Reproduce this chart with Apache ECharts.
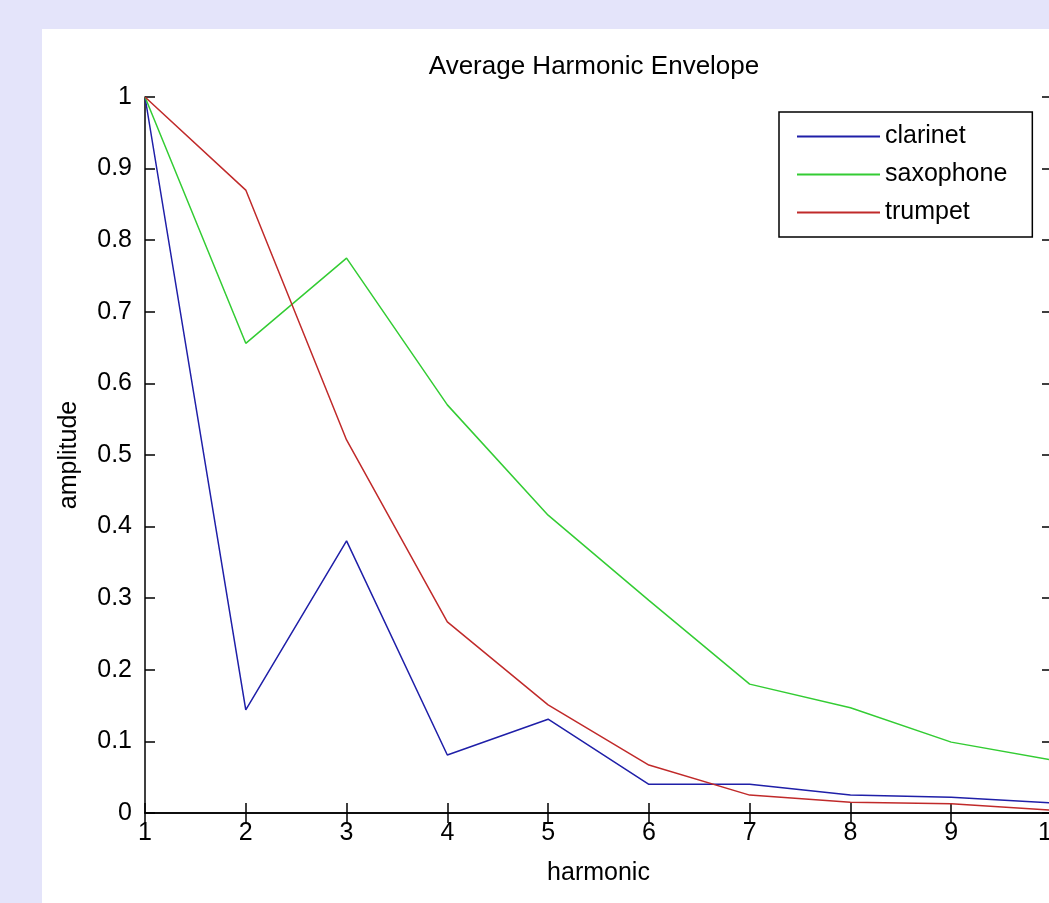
<!DOCTYPE html>
<html lang="en">
<head>
    <meta charset="UTF-8">
    <title>Average Harmonic Envelope</title>
    <style>
        html, body { margin: 0; padding: 0; background: #e4e4fa; }
    </style>
</head>
<body>
<div id="chartBox" style="width: 1049px;height: 903px;"></div>
<script type="text/javascript" src="https://cdn.jsdelivr.net/npm/echarts@6/dist/echarts.min.js"></script>
<script type="text/javascript">
    // harmonic number on x
    var harmonics = [1, 2, 3, 4, 5, 6, 7, 8, 9, 10];
    var seriesNames = ['clarinet', 'saxophone', 'trumpet'];
    var clarinet  = [1.0, 0.144, 0.380, 0.081, 0.131, 0.040, 0.040, 0.025, 0.022, 0.014];
    var saxophone = [1.0, 0.656, 0.775, 0.570, 0.416, 0.297, 0.180, 0.147, 0.099, 0.074];
    var trumpet   = [1.0, 0.870, 0.521, 0.267, 0.151, 0.067, 0.025, 0.015, 0.013, 0.004];
    var yTickLabels = ['0', '0.1', '0.2', '0.3', '0.4', '0.5', '0.6', '0.7', '0.8', '0.9', '1'];

    var font = "'Liberation Sans', Arial, sans-serif";
    var colors = ['#1f1fa8', '#33cc33', '#c02a2a'];

    function pairs(vals) {
        return harmonics.map(function (h, i) { return [h, vals[i]]; });
    }

    var axisLine = { show: true, lineStyle: { color: '#000', width: 1.5 } };
    var tick = { show: true, inside: true, length: 10, lineStyle: { color: '#000', width: 1.5 } };
    var lbl = { color: '#000', fontSize: 25, fontFamily: font };

    var myChart = echarts.init(document.getElementById('chartBox'));
    myChart.setOption({
        backgroundColor: '#e4e4fa',
        animation: false,
        color: colors,
        graphic: {
            elements: [{
                type: 'rect', z: -100, silent: true,
                shape: { x: 42, y: 29, width: 1100, height: 1000 },
                style: { fill: '#ffffff' }
            }]
        },
        title: {
            text: 'Average Harmonic Envelope',
            left: 594, top: 54, padding: 0,
            textAlign: 'center',
            textStyle: { color: '#000', fontSize: 26, fontWeight: 'normal', fontFamily: font }
        },
        legend: {
            data: seriesNames,
            orient: 'vertical',
            left: 779, top: 112,
            padding: [12, 25, 12, 18],
            icon: 'rect',
            itemWidth: 83, itemHeight: 2, itemGap: 13,
            backgroundColor: '#fff',
            borderColor: '#000', borderWidth: 1.5,
            textStyle: lbl
        },
        grid: { left: 145, top: 97, width: 907, height: 716, outerBoundsMode: 'none', containLabel: false },
        xAxis: [{
            type: 'value', min: 1, max: 10, interval: 1, position: 'bottom',
            name: 'harmonic', nameLocation: 'middle', nameGap: 48,
            nameTextStyle: lbl,
            axisLine: axisLine, axisTick: tick,
            axisLabel: Object.assign({ margin: 8 }, lbl),
            splitLine: { show: false }
        }, {
            type: 'value', min: 1, max: 10, interval: 1, position: 'top',
            axisLine: axisLine, axisTick: tick,
            axisLabel: { show: false }, splitLine: { show: false }
        }],
        yAxis: [{
            type: 'value', min: 0, max: 1, interval: 0.1, position: 'left',
            name: 'amplitude', nameLocation: 'middle', nameGap: 63,
            nameTextStyle: lbl,
            axisLine: axisLine, axisTick: tick,
            axisLabel: Object.assign({
                margin: 13,
                formatter: function (v) { return yTickLabels[Math.round(v * 10)]; }
            }, lbl),
            splitLine: { show: false }
        }, {
            type: 'value', min: 0, max: 1, interval: 0.1, position: 'right',
            axisLine: axisLine, axisTick: tick,
            axisLabel: { show: false }, splitLine: { show: false }
        }],
        series: [
            { name: seriesNames[0], type: 'line', data: pairs(clarinet), symbol: 'none', lineStyle: { width: 1.5 } },
            { name: seriesNames[1], type: 'line', data: pairs(saxophone), symbol: 'none', lineStyle: { width: 1.5 } },
            { name: seriesNames[2], type: 'line', data: pairs(trumpet), symbol: 'none', lineStyle: { width: 1.5 } }
        ]
    });
</script>
</body>
</html>
